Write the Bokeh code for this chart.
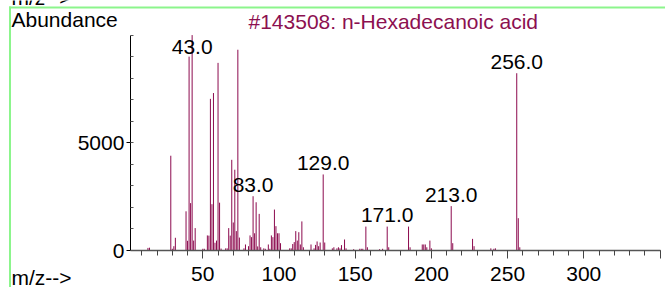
from bokeh.plotting import figure
from bokeh.models import FixedTicker, Label, ColumnDataSource, Range1d, BoxAnnotation
from bokeh.core.properties import value
from bokeh.embed import file_html
from bokeh.resources import INLINE

# ---- data ----
mz = [14, 15, 29, 30, 31, 32, 39, 40, 41, 42, 43, 44, 45, 50, 51, 53, 54, 55, 56, 57,
      58, 59, 60, 61, 62, 65, 66, 67, 68, 69, 70, 71, 72, 73, 74, 77, 78, 80, 81, 82,
      83, 84, 85, 86, 87, 88, 90, 91, 93, 94, 95, 96, 97, 98, 99, 100, 101, 107, 108, 109,
      110, 111, 112, 113, 114, 115, 116, 121, 123, 124, 125, 126, 127, 129, 130, 135, 136, 138, 139, 140,
      141, 143, 144, 149, 153, 154, 155, 157, 158, 166, 168, 171, 172, 185, 186, 194, 195, 196, 197, 199,
      200, 213, 214, 227, 228, 239, 241, 242, 256, 257, 258]
abundance = [120, 130, 4400, 80, 200, 590, 1820, 450, 9000, 2200, 10000, 460, 1040, 80, 80, 700, 690, 7040, 2150, 7310,
             360, 460, 8710, 2220, 90, 100, 100, 1040, 690, 4210, 1300, 3750, 900, 9320, 600, 100, 280, 200, 700, 620,
             2520, 800, 2240, 190, 1700, 150, 100, 80, 280, 80, 700, 620, 1900, 1130, 800, 800, 340, 100, 100, 300,
             390, 900, 460, 850, 280, 1350, 150, 280, 100, 260, 420, 200, 370, 3530, 370, 100, 150, 100, 150, 100,
             250, 510, 100, 60, 80, 80, 80, 1110, 150, 60, 80, 1110, 150, 1110, 150, 280, 280, 280, 150, 460,
             100, 2060, 340, 540, 200, 100, 80, 100, 8230, 1500, 150]

peak_mz = [43, 83, 129, 171, 213, 256]
peak_text = ["43.0", "83.0", "129.0", "171.0", "213.0", "256.0"]

x_major = [50, 100, 150, 200, 250, 300, 350]
x_minor = list(range(10, 351, 10))
x_bounds = (2.5, 350)
y_major = [0, 5000]
y_minor = list(range(0, 10001, 1000))
y_bounds = (0, 10000)

title_text = "#143508: n-Hexadecanoic acid"
y_title = "Abundance"
x_title = "m/z-->"

BAR = "#8c0a4e"
GREEN = "#8cf58c"
FONT = "Liberation Sans"
FS = "21px"

# geometry (page pixels)
W, H = 665, 287
X0, XS = 126.1, 1.524        # page x of m/z 0, pixels per m/z unit
Y0, YS = 250.0, 0.02154      # page y of abundance 0, pixels per abundance unit
SHIFT = 7                    # rendered text sits this much lower than the requested baseline

p = figure(width=W, height=H, output_backend="svg", toolbar_location=None,
           x_range=Range1d(-X0 / XS, (W - X0) / XS),
           y_range=Range1d(-(H - Y0) / YS, Y0 / YS),
           min_border=0)
p.outline_line_color = None
p.xgrid.visible = False
p.ygrid.visible = False
p.background_fill_color = "white"
p.border_fill_color = "white"

src = ColumnDataSource(dict(x=mz, y=abundance, y0=[0] * len(mz)))
p.segment(x0="x", y0="y0", x1="x", y1="y", source=src, line_color=BAR, line_width=1)

gap = (4.5 + SHIFT) / YS
cap = (Y0 - (53 - SHIFT)) / YS
lab_y = [min(abundance[mz.index(m)] + gap, cap) for m in peak_mz]
p.text(x=peak_mz, y=lab_y, text=peak_text, text_align="center", text_baseline="alphabetic",
       text_font=value(FONT), text_font_size=FS, text_color="black")

xa = p.xaxis[0]
xa.fixed_location = 0
xa.bounds = x_bounds
xa.ticker = FixedTicker(ticks=x_major, minor_ticks=x_minor)
xa.major_label_overrides = {350: ""}
xa.axis_line_color = "#555555"
xa.axis_line_width = 1.5
xa.major_tick_line_color = "#444444"
xa.minor_tick_line_color = "#444444"
xa.major_tick_in = 0
xa.major_tick_out = 8
xa.minor_tick_in = 0
xa.minor_tick_out = 5
xa.major_label_standoff = 8
xa.major_label_text_font = FONT
xa.major_label_text_font_size = FS
xa.major_label_text_color = "black"

ya = p.yaxis[0]
ya.fixed_location = x_bounds[0]
ya.bounds = y_bounds
ya.ticker = FixedTicker(ticks=y_major, minor_ticks=y_minor)
ya.axis_line_color = "black"
ya.major_tick_line_color = "black"
ya.minor_tick_line_color = "#555555"
ya.major_tick_in = 0
ya.major_tick_out = 4
ya.minor_tick_in = 3
ya.minor_tick_out = 0
ya.major_label_standoff = 2
ya.major_label_text_font = FONT
ya.major_label_text_font_size = FS
ya.major_label_text_color = "black"

def page_label(text, px, py, color="black", size=FS):
    # screen units: from the frame's bottom-left corner (frame = whole canvas here)
    return Label(x=px, y=H - (py - SHIFT), x_units="screen", y_units="screen", text=text,
                 text_font=FONT, text_font_size=size, text_color=color,
                 text_baseline="alphabetic", text_align="left")

p.add_layout(page_label(x_title, 11, 4))
p.add_layout(page_label(y_title, 11, 26))
p.add_layout(page_label(title_text, 248, 28, color="#8c1050"))
p.add_layout(page_label(x_title, 11, 284))

# green panel border (top and left edges)
p.add_layout(BoxAnnotation(left=8.5, right=10.5, bottom=0, top=H - 6,
                           left_units="screen", right_units="screen", bottom_units="screen", top_units="screen",
                           fill_color=GREEN, fill_alpha=1, line_color=None, level="underlay"))
p.add_layout(BoxAnnotation(left=8.5, right=W, bottom=H - 8, top=H - 6,
                           left_units="screen", right_units="screen", bottom_units="screen", top_units="screen",
                           fill_color=GREEN, fill_alpha=1, line_color=None, level="underlay"))

open("out.html", "w").write(file_html(p, INLINE))
